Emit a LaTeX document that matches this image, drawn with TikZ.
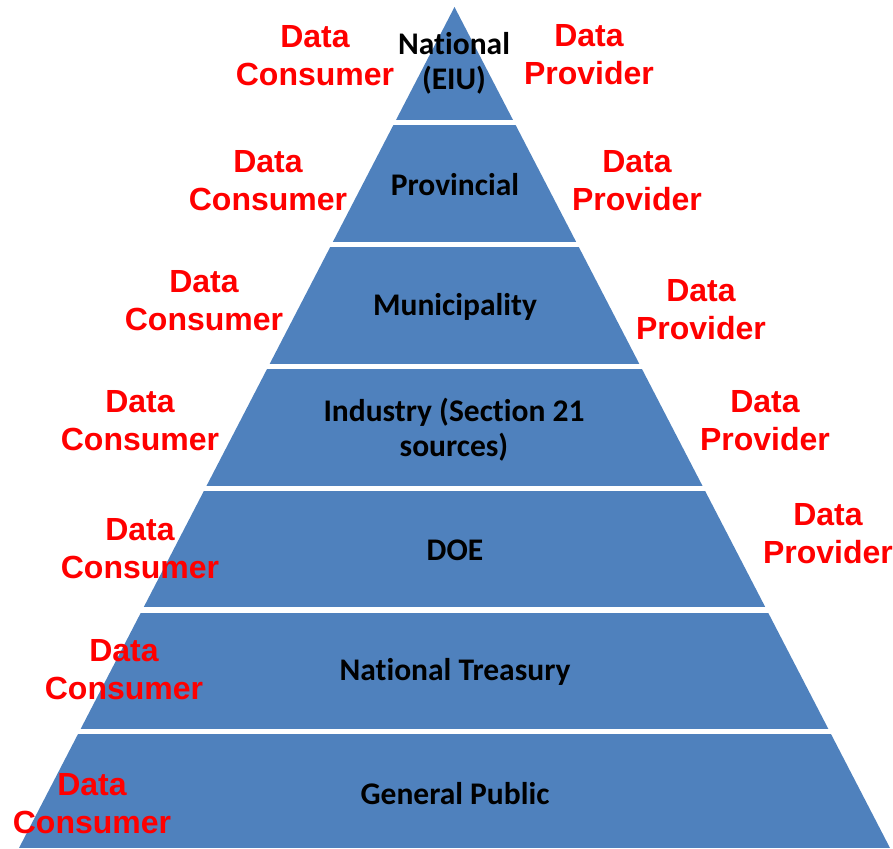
\documentclass[tikz,border=0pt]{standalone}
\usepackage{fontspec}
\setmainfont{Liberation Sans}
\newfontfamily\tierfont[Ligatures={NoCommon}]{Carlito}
\usetikzlibrary{calc}
\definecolor{tierblue}{HTML}{4F81BD}
\definecolor{rolered}{HTML}{FF0000}
\tikzset{
  tier/.style={fill=tierblue},
  tiername/.style={font=\tierfont\bfseries\fontsize{31.5}{35}\selectfont, align=center, inner sep=0pt, text=black},
  role/.style={font=\bfseries\fontsize{32}{38}\selectfont, align=center, inner sep=0pt, text=rolered},
}
\begin{document}
\begin{tikzpicture}[x=1pt,y=-1pt]
\useasboundingbox (0,0) rectangle (893,848);
% outline of the pyramid
\coordinate (apex) at (454.5,7);
\coordinate (baseL) at (19,848);
\coordinate (baseR) at (890,848);
% seven tiers separated by thin white gaps
\begin{scope}
  \clip (apex) -- (baseL) -- (baseR) -- cycle;
  \foreach \t/\b in {0/120,125/242,247/364,369/486,491/607,613/729,734/848}
    \fill[tier] (0,\t) rectangle (893,\b);
\end{scope}
% tier names
\node[tiername] (national)  at (454,63)  {National\\(EIU)};
\node[tiername] (provincial) at (455,185) {Provincial};
\node[tiername] (municipal) at (455,307) {Municipality};
\node[tiername] (industry)  at (454,430) {Industry (Section 21\\sources)};
\node[tiername] (doe)       at (455,550) {DOE};
\node[tiername] (treasury)  at (455,672) {National Treasury};
\node[tiername] (public)    at (455,794) {General Public};
% consumers on the left
\node[role] (cons1) at (315,56)  {Data\\Consumer};
\node[role] (cons2) at (268,181) {Data\\Consumer};
\node[role] (cons3) at (204,301) {Data\\Consumer};
\node[role] (cons4) at (140,421) {Data\\Consumer};
\node[role] (cons5) at (140,549) {Data\\Consumer};
\node[role] (cons6) at (124,670) {Data\\Consumer};
\node[role] (cons7) at (92,804)  {Data\\Consumer};
% providers on the right
\node[role] (prov1) at (589,55)  {Data\\Provider};
\node[role] (prov2) at (637,181) {Data\\Provider};
\node[role] (prov3) at (701,310) {Data\\Provider};
\node[role] (prov4) at (765,421) {Data\\Provider};
\node[role] (prov5) at (828,534) {Data\\Provider};
\end{tikzpicture}
\end{document}
